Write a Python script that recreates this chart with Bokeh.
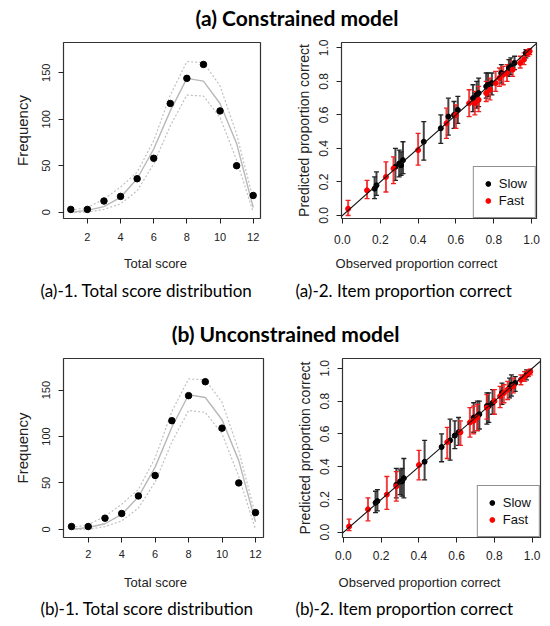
from bokeh.plotting import figure
from bokeh.layouts import column, row
from bokeh.models import (Range1d, FixedTicker, PrintfTickFormatter, Slope,
                          Legend, LegendItem)
from bokeh.embed import file_html
from bokeh.resources import INLINE
from bokeh.core.properties import value

R_FONT = "Liberation Sans"
CAP_FONT = "Lato"

# ---------------- data ----------------
scores = [1, 2, 3, 4, 5, 6, 7, 8, 9, 10, 11, 12]
score_ticks = [2, 4, 6, 8, 10, 12]
freq_ticks = [0, 50, 100, 150]
prop_ticks = [0.0, 0.2, 0.4, 0.6, 0.8, 1.0]

# (a) constrained model - total score distribution
obs_freq_a = [3, 3, 12, 17, 36, 58, 117, 144, 159, 109, 50, 18]
med_freq_a = [0, 2, 6, 16, 36, 68, 109, 144, 141, 117, 74, 5]
lo_freq_a = [0, 0, 3, 9, 23, 52, 93, 126, 125, 102, 56, 0]
hi_freq_a = [2, 5, 14, 27, 43, 77, 126, 162, 161, 136, 84, 14]

# (b) unconstrained model - total score distribution
obs_freq_b = [3, 3, 12, 17, 36, 58, 117, 144, 159, 109, 50, 18]
med_freq_b = [0, 2, 6, 16, 35, 67, 110, 145, 142, 118, 74, 8]
lo_freq_b = [0, 0, 3, 9, 23, 51, 94, 128, 126, 103, 57, 0]
hi_freq_b = [2, 5, 14, 27, 43, 77, 127, 162, 161, 137, 85, 15]

# (a) item proportion correct - slow
slow_obs_a = [0.17, 0.18, 0.28, 0.30, 0.31, 0.32, 0.43, 0.52, 0.56, 0.59, 0.61,
              0.69, 0.71, 0.72, 0.76, 0.77, 0.79, 0.84, 0.88, 0.89, 0.91, 0.97]
slow_pred_a = [0.16, 0.18, 0.29, 0.31, 0.30, 0.33, 0.44, 0.52, 0.59, 0.60, 0.63,
               0.70, 0.72, 0.73, 0.77, 0.78, 0.79, 0.85, 0.88, 0.89, 0.91, 0.97]
slow_lo_a = [0.10, 0.12, 0.21, 0.23, 0.24, 0.25, 0.33, 0.43, 0.48, 0.52, 0.55,
             0.62, 0.64, 0.65, 0.70, 0.71, 0.72, 0.79, 0.83, 0.84, 0.87, 0.94]
slow_hi_a = [0.23, 0.26, 0.40, 0.39, 0.38, 0.44, 0.56, 0.60, 0.70, 0.68, 0.71,
             0.78, 0.80, 0.82, 0.85, 0.85, 0.85, 0.90, 0.93, 0.94, 0.95, 0.99]

# (a) item proportion correct - fast
fast_obs_a = [0.03, 0.13, 0.23, 0.27, 0.40, 0.55, 0.60, 0.67, 0.70, 0.72, 0.76,
              0.78, 0.81, 0.83, 0.85, 0.87, 0.90, 0.94, 0.96, 0.98, 0.99]
fast_pred_a = [0.04, 0.15, 0.23, 0.28, 0.39, 0.55, 0.60, 0.67, 0.67, 0.69, 0.73,
               0.75, 0.79, 0.82, 0.84, 0.85, 0.87, 0.91, 0.93, 0.97, 0.98]
fast_lo_a = [0.00, 0.10, 0.14, 0.19, 0.30, 0.46, 0.52, 0.59, 0.60, 0.62, 0.68,
             0.69, 0.74, 0.77, 0.78, 0.80, 0.83, 0.88, 0.90, 0.95, 0.96]
fast_hi_a = [0.09, 0.21, 0.32, 0.35, 0.49, 0.64, 0.66, 0.75, 0.74, 0.77, 0.80,
             0.82, 0.86, 0.88, 0.89, 0.90, 0.92, 0.95, 0.97, 0.99, 0.995]

# (b) item proportion correct - slow
slow_obs_b = [0.17, 0.18, 0.28, 0.30, 0.31, 0.32, 0.43, 0.52, 0.565, 0.59, 0.61,
              0.69, 0.71, 0.72, 0.76, 0.77, 0.79, 0.84, 0.88, 0.89, 0.91, 0.97]
slow_pred_b = [0.18, 0.19, 0.29, 0.31, 0.31, 0.33, 0.43, 0.52, 0.56, 0.59, 0.61,
               0.70, 0.71, 0.72, 0.77, 0.77, 0.79, 0.85, 0.88, 0.90, 0.91, 0.96]
slow_lo_b = [0.12, 0.13, 0.21, 0.23, 0.22, 0.21, 0.32, 0.43, 0.44, 0.51, 0.53,
             0.61, 0.62, 0.63, 0.66, 0.67, 0.72, 0.78, 0.82, 0.83, 0.86, 0.93]
slow_hi_b = [0.25, 0.26, 0.39, 0.38, 0.39, 0.45, 0.56, 0.60, 0.69, 0.68, 0.70,
             0.79, 0.80, 0.80, 0.85, 0.85, 0.87, 0.91, 0.94, 0.96, 0.95, 0.99]

# (b) item proportion correct - fast
fast_obs_b = [0.03, 0.13, 0.23, 0.28, 0.40, 0.55, 0.62, 0.67, 0.69, 0.71, 0.76,
              0.80, 0.83, 0.85, 0.87, 0.90, 0.94, 0.96, 0.98, 0.99]
fast_pred_b = [0.035, 0.14, 0.23, 0.28, 0.41, 0.55, 0.61, 0.67, 0.68, 0.70, 0.76,
               0.80, 0.83, 0.85, 0.87, 0.89, 0.93, 0.95, 0.97, 0.98]
fast_lo_b = [0.01, 0.07, 0.14, 0.19, 0.32, 0.45, 0.53, 0.58, 0.60, 0.62, 0.69,
             0.72, 0.76, 0.79, 0.81, 0.85, 0.90, 0.92, 0.95, 0.96]
fast_hi_b = [0.08, 0.21, 0.34, 0.37, 0.50, 0.64, 0.68, 0.76, 0.77, 0.78, 0.84,
             0.87, 0.89, 0.90, 0.92, 0.94, 0.96, 0.98, 0.99, 0.995]

TITLE_A = "(a) Constrained model"
TITLE_B = "(b) Unconstrained model"
CAP_A1 = "(a)-1. Total score distribution"
CAP_A2 = "(a)-2. Item proportion correct"
CAP_B1 = "(b)-1. Total score distribution"
CAP_B2 = "(b)-2. Item proportion correct"
XLAB_1 = "Total score"
XLAB_2 = "Observed proportion correct"
YLAB_1 = "Frequency"
YLAB_2 = "Predicted proportion correct"
LEG_SLOW = "Slow"
LEG_FAST = "Fast"


def base_fig(height, xr, yr, bl, br, bt, bb):
    p = figure(width=275, height=height, x_range=Range1d(*xr), y_range=Range1d(*yr),
               output_backend="svg", toolbar_location=None,
               min_border_left=bl, min_border_right=br,
               min_border_top=bt, min_border_bottom=bb)
    p.grid.visible = False
    p.outline_line_color = "#333333"
    p.outline_line_width = 1.2
    p.background_fill_color = "white"
    p.border_fill_color = "white"
    for ax in (p.xaxis[0], p.yaxis[0]):
        ax.axis_line_color = None
        ax.major_tick_in = 0
        ax.major_tick_out = 5
        ax.major_tick_line_color = "#222222"
        ax.minor_tick_line_color = None
        ax.major_label_text_font = R_FONT
        ax.major_label_text_color = "#222222"
    p.yaxis[0].major_label_orientation = "vertical"
    p.yaxis[0].axis_label_text_font = R_FONT
    p.yaxis[0].axis_label_text_font_style = "normal"
    p.yaxis[0].axis_label_text_color = "#222222"
    return p


def freq_panel(height, xr, yr, bt, bb, fr, obs, med, lo, hi, xstand):
    p = base_fig(height, xr, yr, 63, fr, bt, bb)
    p.xaxis.ticker = FixedTicker(ticks=score_ticks)
    p.yaxis.ticker = FixedTicker(ticks=freq_ticks)
    p.xaxis.major_label_text_font_size = "11px"
    p.yaxis.major_label_text_font_size = "11px"
    p.xaxis.major_label_standoff = xstand
    p.yaxis.major_label_standoff = 8
    p.yaxis.axis_label = YLAB_1
    p.yaxis.axis_label_text_font_size = "15px"
    p.yaxis.axis_label_standoff = 9
    p.line(scores, hi, line_color="#c0c0c0", line_width=1.2, line_dash="2 2")
    p.line(scores, lo, line_color="#c0c0c0", line_width=1.2, line_dash="2 2")
    p.line(scores, med, line_color="#b8b8b8", line_width=1.4)
    p.scatter(scores, obs, size=6.5, fill_color="black", line_color="black")
    return p


def prop_panel(height, xr, yr, bl, br, bt, bb, xstand,
               s_obs, s_pred, s_lo, s_hi, f_obs, f_pred, f_lo, f_hi):
    p = base_fig(height, xr, yr, bl, br, bt, bb)
    p.xaxis.ticker = FixedTicker(ticks=prop_ticks)
    p.yaxis.ticker = FixedTicker(ticks=prop_ticks)
    p.xaxis.formatter = PrintfTickFormatter(format="%.1f")
    p.yaxis.formatter = PrintfTickFormatter(format="%.1f")
    p.xaxis.major_label_text_font_size = "12px"
    p.yaxis.major_label_text_font_size = "12px"
    p.xaxis.major_label_standoff = xstand
    p.yaxis.major_label_standoff = 8
    p.yaxis.axis_label = YLAB_2
    p.yaxis.axis_label_text_font_size = "14px"
    p.yaxis.axis_label_standoff = 5
    p.add_layout(Slope(gradient=1, y_intercept=0, line_color="#111111", line_width=1.1))
    slow_c = "#222222"
    fast_c = "#f02020"
    p.segment(s_obs, s_lo, s_obs, s_hi, line_color=slow_c, line_width=2, line_alpha=0.85)
    p.scatter(s_obs, s_lo, marker="dash", size=5, line_color=slow_c, line_width=1.3)
    p.scatter(s_obs, s_hi, marker="dash", size=5, line_color=slow_c, line_width=1.3)
    p.segment(f_obs, f_lo, f_obs, f_hi, line_color=fast_c, line_width=2, line_alpha=0.85)
    p.scatter(f_obs, f_lo, marker="dash", size=5, line_color=fast_c, line_width=1.3)
    p.scatter(f_obs, f_hi, marker="dash", size=5, line_color=fast_c, line_width=1.3)
    r_slow = p.scatter(s_obs, s_pred, size=5, fill_color="black", line_color="black")
    r_fast = p.scatter(f_obs, f_pred, size=5, fill_color="#ff0000", line_color="#ff0000")
    leg = Legend(items=[LegendItem(label=LEG_SLOW, renderers=[r_slow]),
                        LegendItem(label=LEG_FAST, renderers=[r_fast])],
                 location="bottom_right", margin=0, padding=8, spacing=0,
                 glyph_width=12, glyph_height=17, label_height=17, label_standoff=5,
                 border_line_color="#222222", border_line_width=1.2,
                 background_fill_color="white", background_fill_alpha=1,
                 label_text_font=R_FONT, label_text_font_size="13px",
                 label_text_color="#111111")
    p.add_layout(leg)
    return p


def strip(height, top, texts):
    f = figure(width=550, height=height, x_range=Range1d(0, 550),
               y_range=Range1d(top + height, top), output_backend="svg",
               toolbar_location=None, min_border=0,
               x_axis_location=None, y_axis_location=None)
    f.grid.visible = False
    f.outline_line_color = None
    for (xs, ys, txt, font, size, style, align, color) in texts:
        f.text(x=[xs], y=[ys], text=[txt], text_font=value(font),
               text_font_size=value(size), text_font_style=style,
               text_align=align, text_baseline="middle", text_color=color)
    return f


# ---------------- layout (page coordinates, page starts at 0) ----------------
title_a = strip(36, 0, [(296.5, 17, TITLE_A, CAP_FONT, "21px", "bold", "center", "black")])

a1 = freq_panel(212, (0.56, 12.44), (-6.8, 182.6), 6, 30, 15,
                obs_freq_a, med_freq_a, lo_freq_a, hi_freq_a, 9)
a2 = prop_panel(212, (-0.005, 1.026), (-0.018, 1.032), 66, 14, 6, 30, 11,
                slow_obs_a, slow_pred_a, slow_lo_a, slow_hi_a,
                fast_obs_a, fast_pred_a, fast_lo_a, fast_hi_a)

strip_a = strip(56, 248, [
    (155, 263, XLAB_1, R_FONT, "13px", "normal", "center", "#222222"),
    (416, 263, XLAB_2, R_FONT, "13px", "normal", "center", "#222222"),
    (40, 290, CAP_A1, CAP_FONT, "17px", "normal", "left", "black"),
    (295, 290, CAP_A2, CAP_FONT, "17px", "normal", "left", "black"),
])

title_b = strip(42, 304, [(285, 333, TITLE_B, CAP_FONT, "21px", "bold", "center", "black")])

b1 = freq_panel(222, (0.52, 12.48), (-8.8, 184.0), 12, 29, 12,
                obs_freq_b, med_freq_b, lo_freq_b, hi_freq_b, 7)
b2 = prop_panel(222, (-0.005, 1.044), (-0.032, 1.06), 67, 10, 9, 31, 8,
                slow_obs_b, slow_pred_b, slow_lo_b, slow_hi_b,
                fast_obs_b, fast_pred_b, fast_lo_b, fast_hi_b)

strip_b = strip(56, 568, [
    (155, 582, XLAB_1, R_FONT, "13px", "normal", "center", "#222222"),
    (419, 582, XLAB_2, R_FONT, "13px", "normal", "center", "#222222"),
    (40, 608, CAP_B1, CAP_FONT, "17px", "normal", "left", "black"),
    (295, 608, CAP_B2, CAP_FONT, "17px", "normal", "left", "black"),
])

layout = column(title_a, row(a1, a2), strip_a, title_b, row(b1, b2), strip_b, spacing=0)

open("out.html", "w").write(file_html(layout, INLINE))
